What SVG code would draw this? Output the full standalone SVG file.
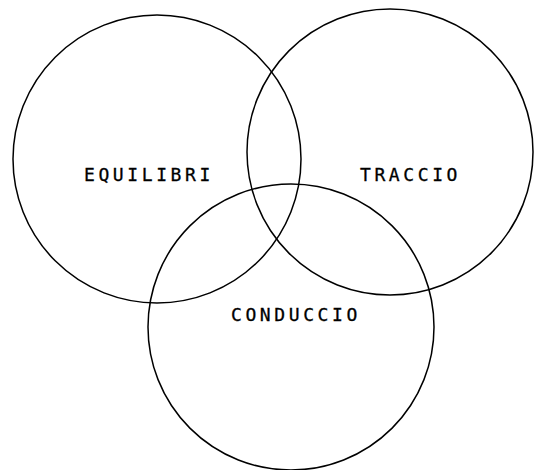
<svg xmlns="http://www.w3.org/2000/svg" width="535" height="470" viewBox="0 0 535 470">
<style>
.c{fill:none;stroke:#000;stroke-width:1.5}
.t{font-family:"DejaVu Sans Mono","Liberation Mono",monospace;font-size:18px;letter-spacing:3.6px;fill:#000;stroke:#000;stroke-width:0.3}
</style>
<rect width="535" height="470" fill="#fff"/>
<g id="equilibri">
<circle class="c" cx="157" cy="159" r="144"/>
<text class="t" x="84" y="181">EQUILIBRI</text>
</g>
<g id="traccio">
<circle class="c" cx="390" cy="152" r="143"/>
<text class="t" x="360" y="181">TRACCIO</text>
</g>
<g id="conduccio">
<circle class="c" cx="291" cy="327" r="143"/>
<text class="t" x="231" y="321">CONDUCCIO</text>
</g>
<g id="connectors"/>
</svg>
